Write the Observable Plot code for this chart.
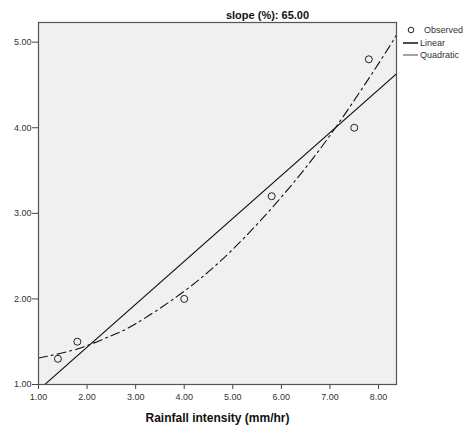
<!DOCTYPE html>
<html>
<head>
<meta charset="utf-8">
<script src="https://cdn.jsdelivr.net/npm/d3@7"></script>
<script src="https://cdn.jsdelivr.net/npm/@observablehq/plot@0.6"></script>
<style>
  body { margin: 0; background: white; font-family: "Liberation Sans", Arial, sans-serif; }
  #wrap { position: relative; width: 468px; height: 433px; }
  #legend { position: absolute; left: 402px; top: 24px; font-size: 9px; color: #333; line-height: 12.5px; }
  #legend div { display: flex; align-items: center; white-space: nowrap; }
  #legend svg { margin-right: 2px; }
</style>
</head>
<body>
<div id="wrap"><div id="legend"></div></div>
<script>
// Observed points
const obsX = [1.4, 1.8, 4.0, 5.8, 7.5, 7.8];
const obsY = [1.3, 1.5, 2.0, 3.2, 4.0, 4.8];
// Linear fit line (read endpoints)
const linX = [1.13, 8.37];
const linY = [1.0, 4.63];
// Quadratic fit curve (read points)
const quadX = [1.0, 1.5, 2.0, 2.5, 3.0, 4.0, 5.0, 6.0, 7.0, 8.0, 8.37];
const quadY = [1.31, 1.37, 1.455, 1.57, 1.71, 2.09, 2.58, 3.19, 3.91, 4.75, 5.085];
// Ticks
const xTicks = [1, 2, 3, 4, 5, 6, 7, 8];
const yTicks = [1, 2, 3, 4, 5];
const titleText = "slope (%): 65.00";
const xLabel = "Rainfall intensity (mm/hr)";

const obs = obsX.map((x, i) => ({x, y: obsY[i]}));
const lin = linX.map((x, i) => ({x, y: linY[i]}));
const quad = quadX.map((x, i) => ({x, y: quadY[i]}));

const chart = Plot.plot({
  width: 468,
  height: 433,
  marginLeft: 38,
  marginRight: 72,
  marginTop: 22,
  marginBottom: 49,
  style: {fontFamily: "'Liberation Sans', Arial, sans-serif", fontSize: "9px", background: "white", color: "#333"},
  x: {domain: [1, 8.37]},
  y: {domain: [1, 5.23]},
  marks: [
    Plot.frame({fill: "#f0f0f0", stroke: null}),
    Plot.axisX({ticks: xTicks, tickFormat: d3.format(".2f"), tickSize: 5, tickPadding: 4, label: null, stroke: "#444"}),
    Plot.axisY({ticks: yTicks, tickFormat: d3.format(".2f"), tickSize: 6, tickPadding: 1, label: null, stroke: "#444"}),
    Plot.line(lin, {x: "x", y: "y", stroke: "#111", strokeWidth: 1.1, clip: true}),
    Plot.line(quad, {x: "x", y: "y", stroke: "#111", strokeWidth: 1.1, curve: "natural", strokeDasharray: "9,4,2,4", clip: true}),
    Plot.dot(obs, {x: "x", y: "y", r: 3.5, stroke: "#222", strokeWidth: 1, fill: "none"}),
    Plot.frame({stroke: "#555", strokeWidth: 1.2}),
    Plot.text([titleText], {frameAnchor: "top", dx: 50, dy: -11, fontWeight: "bold", fontSize: 11, fill: "#111"}),
    Plot.text([xLabel], {frameAnchor: "bottom", dy: 37, fontWeight: "bold", fontSize: 12, fill: "#111"})
  ]
});
document.getElementById("wrap").prepend(chart);

// Legend
const legendItems = [
  {label: "Observed", kind: "dot"},
  {label: "Linear", kind: "solid"},
  {label: "Quadratic", kind: "dash"}
];
const leg = document.getElementById("legend");
for (const it of legendItems) {
  const row = document.createElement("div");
  let sym;
  if (it.kind === "dot") sym = '<svg width="20" height="10"><circle cx="9" cy="5" r="2.8" fill="none" stroke="#222"/></svg>';
  else if (it.kind === "solid") sym = '<svg width="16" height="10"><line x1="1" x2="16" y1="5" y2="5" stroke="#111" stroke-width="1.5"/></svg>';
  else sym = '<svg width="16" height="10"><line x1="1" x2="16" y1="5" y2="5" stroke="#666" stroke-width="1.2"/></svg>';
  row.innerHTML = sym + '<span>' + it.label + '</span>';
  leg.appendChild(row);
}
</script>
</body>
</html>
